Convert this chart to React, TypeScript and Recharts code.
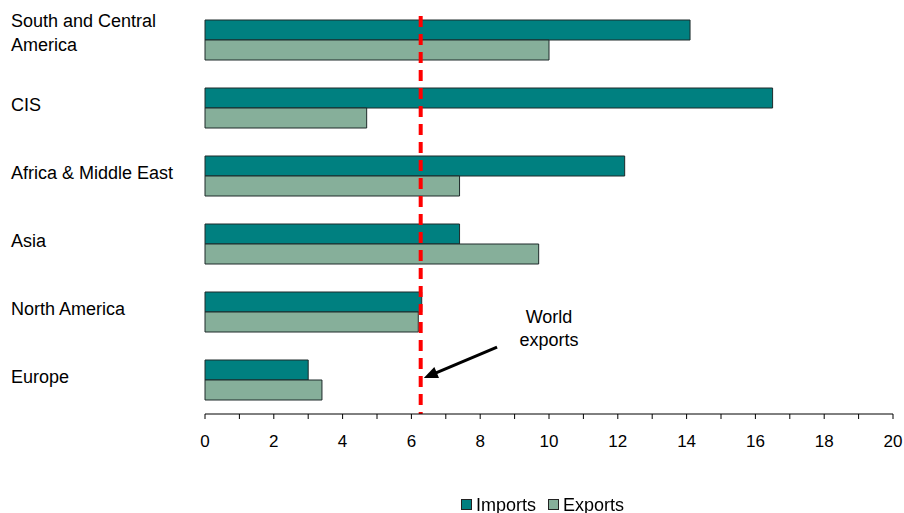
import React from 'react';
import {
  BarChart,
  Bar,
  XAxis,
  YAxis,
  ReferenceLine,
  ReferenceDot,
  Legend,
} from 'recharts';

// Regions, top to bottom
const regions = [
  'South and Central America',
  'CIS',
  'Africa & Middle East',
  'Asia',
  'North America',
  'Europe',
];

// Growth by region (per cent)
const imports = [14.1, 16.5, 12.2, 7.4, 6.3, 3.0];
const exports = [10.0, 4.7, 7.4, 9.7, 6.2, 3.4];

// World exports benchmark
const worldExports = 6.27;

const xTicks = [0, 1, 2, 3, 4, 5, 6, 7, 8, 9, 10, 11, 12, 13, 14, 15, 16, 17, 18, 19, 20];

const seriesNames = ['Imports', 'Exports'];
const seriesColors = ['#008080', '#86AF9A'];

const data = regions.map((name, i) => ({
  name,
  Imports: imports[i],
  Exports: exports[i],
}));

const FONT = '"Liberation Sans", Arial, sans-serif';

// Chart geometry
const WIDTH = 904;
const HEIGHT = 513;
const MARGIN = { top: 6, right: 11, bottom: 34, left: 0 };
const X_AXIS_H = 35;
const LEGEND_H = 30;
const PLOT_H = HEIGHT - MARGIN.top - MARGIN.bottom - X_AXIS_H - LEGEND_H;
const ROW = PLOT_H / regions.length;

const wrapLabel = (s: string, max = 22): string[] => {
  if (s.length <= max) return [s];
  const cut = s.lastIndexOf(' ', max);
  return [s.slice(0, cut), s.slice(cut + 1)];
};

const RegionTick = (props: any) => {
  const { y, payload } = props;
  const lines = wrapLabel(String(payload.value));
  const lineH = 24;
  const start = y - 3 - ((lines.length - 1) * lineH) / 2 - (lines.length > 1 ? 4 : 0);
  return (
    <text x={11} y={start} fill="#000" fontSize={18} fontFamily={FONT} textAnchor="start">
      {lines.map((l, i) => (
        <tspan key={i} x={11} y={start + i * lineH} dominantBaseline="central">
          {l}
        </tspan>
      ))}
    </text>
  );
};

// Dashed benchmark line, starting a little below the top of the plot
const BenchmarkLine = (props: any) => {
  const { x1, y1, x2, y2 } = props;
  const top = Math.min(y1, y2) + ROW * 0.147;
  const bottom = Math.max(y1, y2);
  return (
    <line
      x1={x1}
      x2={x2}
      y1={top}
      y2={bottom}
      stroke="#FF0000"
      strokeWidth={4}
      strokeDasharray="11 7"
    />
  );
};

// Arrow pointing at the benchmark line; both ends anchored on the Europe row
const ArrowShape = (props: any) => {
  const { x1, y1: rowY1, x2, y2: rowY2 } = props;
  const y1 = rowY1 - ROW * 0.485;
  const y2 = rowY2 - ROW * 0.03;
  const dx = x2 - x1;
  const dy = y2 - y1;
  const len = Math.sqrt(dx * dx + dy * dy) || 1;
  const ux = dx / len;
  const uy = dy / len;
  const headLen = 14;
  const headHalf = 6;
  const bx = x2 - ux * headLen;
  const by = y2 - uy * headLen;
  const px = -uy;
  const py = ux;
  return (
    <g>
      <line x1={x1} y1={y1} x2={bx + ux * 2} y2={by + uy * 2} stroke="#000" strokeWidth={3} />
      <polygon
        points={`${x2},${y2} ${bx + px * headHalf},${by + py * headHalf} ${bx - px * headHalf},${by - py * headHalf}`}
        fill="#000"
      />
    </g>
  );
};

const AnnotationText = (props: any) => {
  const { cx } = props;
  const cy = props.cy + ROW * 0.243;
  return (
    <text x={cx} y={cy} textAnchor="middle" fontSize={18} fontFamily={FONT} fill="#000">
      <tspan x={cx} y={cy - 11.5} dominantBaseline="central">World</tspan>
      <tspan x={cx} y={cy + 11.5} dominantBaseline="central">exports</tspan>
    </text>
  );
};

const renderLegend = () => (
  <div
    style={{
      display: 'flex',
      alignItems: 'center',
      fontFamily: FONT,
      fontSize: 18,
      color: '#000',
      height: LEGEND_H,
      paddingTop: 13,
      boxSizing: 'border-box',
    }}
  >
    {seriesNames.map((n, i) => (
      <div key={n} style={{ display: 'flex', alignItems: 'center', marginRight: 12 }}>
        <span
          style={{
            display: 'inline-block',
            width: 9,
            height: 9,
            background: seriesColors[i],
            border: '1px solid #222',
            marginRight: 4,
          }}
        />
        <span style={{ lineHeight: '18px' }}>{n}</span>
      </div>
    ))}
  </div>
);

export default function App() {
  return (
    <div style={{ position: 'fixed', left: 0, top: 0, width: WIDTH, height: HEIGHT, background: '#fff' }}>
      <BarChart
        width={WIDTH}
        height={HEIGHT}
        data={data}
        layout="vertical"
        margin={MARGIN}
        barSize={20}
        barGap={0}
        style={{ fontFamily: FONT }}
      >
        <XAxis
          type="number"
          domain={[0, 20]}
          ticks={xTicks}
          interval={0}
          height={X_AXIS_H}
          tickSize={5}
          tickMargin={16}
          axisLine={{ stroke: '#000', strokeWidth: 1 }}
          tickLine={{ stroke: '#000', strokeWidth: 1 }}
          tick={{ fill: '#000', fontSize: 17, fontFamily: FONT }}
          tickFormatter={(v: number) => (v % 2 === 0 ? String(v) : '')}
        />
        <YAxis
          type="category"
          dataKey="name"
          width={205}
          axisLine={false}
          tickLine={false}
          interval={0}
          tick={<RegionTick />}
        />
        <Bar
          dataKey="Imports"
          fill={seriesColors[0]}
          stroke="#1e2a2a"
          strokeWidth={1}
          isAnimationActive={false}
        />
        <Bar
          dataKey="Exports"
          fill={seriesColors[1]}
          stroke="#1e2a2a"
          strokeWidth={1}
          isAnimationActive={false}
        />
        <ReferenceLine x={worldExports} shape={<BenchmarkLine />} />
        <ReferenceLine
          ifOverflow="visible"
          segment={[
            { x: 8.49, y: 'Europe' },
            { x: 6.36, y: 'Europe' },
          ]}
          shape={<ArrowShape />}
        />
        <ReferenceDot x={10} y="North America" r={0} shape={<AnnotationText />} />
        <Legend
          verticalAlign="bottom"
          height={LEGEND_H}
          wrapperStyle={{ left: 461, bottom: 0, width: 'auto' }}
          content={renderLegend}
        />
      </BarChart>
    </div>
  );
}
